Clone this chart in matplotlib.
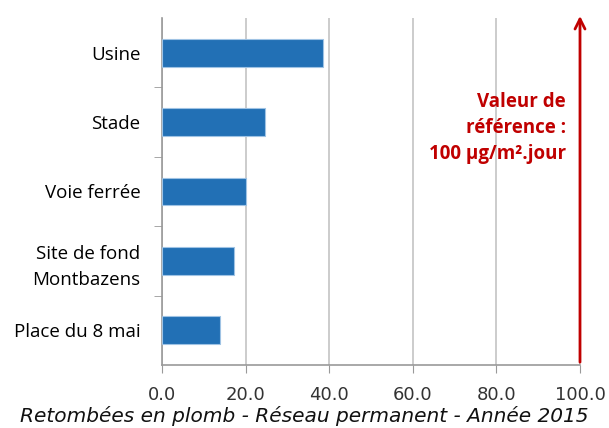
import matplotlib.pyplot as plt

sites = ["Usine", "Stade", "Voie ferrée", "Site de fond\nMontbazens", "Place du 8 mai"]
valeurs = [38.6, 24.6, 20.1, 17.2, 13.9]
ticks_x = [0, 20, 40, 60, 80, 100]
valeur_ref = 100

fig = plt.figure(figsize=(6.09, 4.28), dpi=100)
ax = fig.add_axes([162 / 609, 1 - 365 / 428, (580 - 162) / 609, (365 - 18) / 428])

pos = list(range(len(sites)))[::-1]
ax.barh(pos, valeurs, height=0.4, color="#2270B5", edgecolor="#9FC3E4", linewidth=0.8, zorder=3)
ax.set_xlim(0, 100)
ax.set_ylim(-0.5, len(sites) - 0.5)

ax.set_xticks(ticks_x)
ax.set_xticklabels([f"{t:.1f}" for t in ticks_x], fontsize=13, color="#333333", family="DejaVu Sans")
ax.set_yticks(pos)
ax.set_yticklabels(sites, fontsize=13.5, family="Open Sans", linespacing=1.55)
ax.tick_params(axis="y", length=0, pad=15.5)
ax.set_yticks([p + 0.5 for p in pos[1:]], minor=True)
ax.tick_params(axis="y", which="minor", length=6, color="#999999", direction="out")
ax.tick_params(axis="x", length=6, color="#999999", direction="out", pad=9)

ax.grid(axis="x", color="#C4C4C4", linewidth=1.2, zorder=0)
for s in ["top", "right"]:
    ax.spines[s].set_visible(False)
for s in ["left", "bottom"]:
    ax.spines[s].set_color("#999999")
    ax.spines[s].set_linewidth(1.2)

# ligne de référence
ax.annotate("", xy=(valeur_ref, 4.57), xytext=(valeur_ref, -0.5),
            arrowprops=dict(arrowstyle="->", color="#C00000", lw=2, mutation_scale=18),
            annotation_clip=False, zorder=5)
ax.text(96.6, 2.92, "Valeur de\nréférence :\n100 µg/m².jour", ha="right", va="center",
        color="#C00000", fontsize=13.5, fontweight="bold", family="Open Sans", linespacing=1.4)

fig.text(0.5, 0.015, "Retombées en plomb - Réseau permanent - Année 2015", ha="center",
         fontsize=14.5, style="italic", family="DejaVu Sans", color="#111111")

fig.savefig("out.png", dpi=100)
